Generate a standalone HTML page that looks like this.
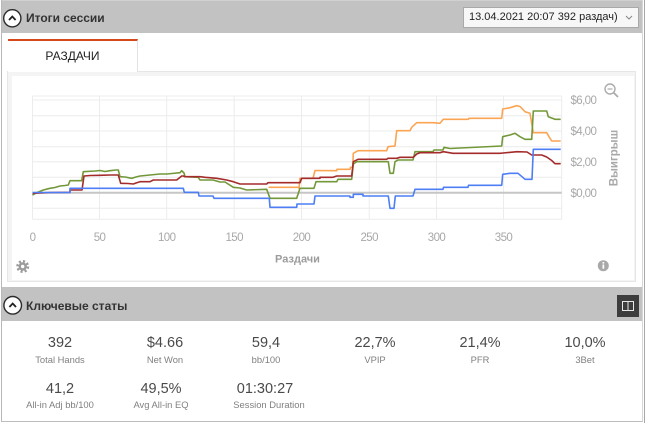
<!DOCTYPE html>
<html><head><meta charset="utf-8"><style>
*{margin:0;padding:0;box-sizing:border-box}
html,body{width:647px;height:423px;overflow:hidden;background:#fff;font-family:"Liberation Sans","Noto Sans CJK SC",sans-serif}
.a{position:absolute}
.hdr{background:#c2c2c2}
.ht{font-weight:bold;font-size:12px;color:#333;line-height:14px}
.v{position:absolute;font-size:14.5px;color:#4a4a4a;text-align:center;width:120px;line-height:16px}
.l{position:absolute;font-size:9.4px;color:#808080;text-align:center;width:120px;line-height:11px}
</style></head><body>
<div class="a" style="left:1px;top:0;width:642px;height:422px;border-left:1px solid #b8b8b8;border-right:1px solid #d6d6d6;border-bottom:1px solid #bdbdbd"></div>
<div class="a" style="left:644px;top:0;width:1px;height:423px;background:#a8a8a8"></div>
<div class="a hdr" style="left:2px;top:0;width:640px;height:33px;border-top:1px solid #d0d0d0"></div>
<svg class="a" style="left:0;top:0" width="30" height="34"><circle cx="12.3" cy="18.3" r="8.6" fill="#fff" stroke="#2b2b2b" stroke-width="1.4"/><polyline points="9,20 12.3,16.5 15.6,20" fill="none" stroke="#222" stroke-width="1.8"/></svg>
<div class="a ht" style="left:26px;top:11px">Итоги сессии</div>
<div class="a" style="left:463px;top:7px;width:176px;height:21px;background:#f7f7f7;border:1px solid #a9a9a9"></div>
<div class="a" style="left:469px;top:10px;font-size:11px;color:#222;line-height:14px;white-space:nowrap">13.04.2021 20:07 392 раздач)</div>
<svg class="a" style="left:624px;top:14px" width="10" height="8"><polyline points="2,2 5,5 8,2" fill="none" stroke="#888" stroke-width="1"/></svg>
<div class="a" style="left:7px;top:71px;width:629px;height:211px;background:#f4f4f4;border:1px solid #e6e6e6"></div>
<div class="a" style="left:12px;top:76px;width:622px;height:204px;background:#fff"></div>
<div class="a" style="left:8px;top:39px;width:130px;height:33px;background:#fff;border-top:2px solid #d6471a;border-right:1px solid #e2e2e2"></div>
<div class="a" style="left:8px;top:49px;width:129px;text-align:center;font-size:12px;color:#222;line-height:14px">РАЗДАЧИ</div>
<svg class="a" style="left:0;top:0" width="647" height="290">
<g stroke="#ececec" stroke-width="1" fill="none">
<line x1="32.5" y1="96" x2="561.7" y2="96"/>
<line x1="32.5" y1="100" x2="561.7" y2="100"/>
<line x1="32.5" y1="115.7" x2="561.7" y2="115.7"/>
<line x1="32.5" y1="131" x2="561.7" y2="131"/>
<line x1="32.5" y1="146.7" x2="561.7" y2="146.7"/>
<line x1="32.5" y1="161.7" x2="561.7" y2="161.7"/>
<line x1="32.5" y1="177.3" x2="561.7" y2="177.3"/>
<line x1="32.5" y1="208.3" x2="561.7" y2="208.3"/>
<line x1="32.5" y1="219.3" x2="561.7" y2="219.3"/>
<line x1="32.5" y1="96" x2="32.5" y2="219.3"/>
<line x1="99.5" y1="96" x2="99.5" y2="219.3"/>
<line x1="166.7" y1="96" x2="166.7" y2="219.3"/>
<line x1="234.2" y1="96" x2="234.2" y2="219.3"/>
<line x1="301.5" y1="96" x2="301.5" y2="219.3"/>
<line x1="369.2" y1="96" x2="369.2" y2="219.3"/>
<line x1="436.5" y1="96" x2="436.5" y2="219.3"/>
<line x1="503.5" y1="96" x2="503.5" y2="219.3"/>
<line x1="561.7" y1="96" x2="561.7" y2="219.3"/>
</g>
<line x1="32.5" y1="192.7" x2="561.7" y2="192.7" stroke="#c6c6c6" stroke-width="2"/>
<g fill="none" stroke-width="1.6" stroke-linejoin="round">
<polyline stroke="#fba453" points="269.3,188 269.3,187.3 298.3,187.3 299,188.3 300,178.3 313,178.3 315,170.5 336.7,170.7 337,169.3 350,169.3 350.5,167.3 352.7,167.3 353.3,153.3 358,150.7 386.7,150.7 388,146.7 395,146 396.7,130.7 410,130.7 411.7,127.3 416.7,122.7 433.3,122.7 440,123.3 443.3,119.3 468.3,119.3 469,118.3 501.7,118.3 502.7,109 510,107.7 516.7,105.7 520,106.5 525,111.7 530,113.3 533.3,132.7 546.7,132.7 549,136.7 551.7,141 560.7,141"/>
<polyline stroke="#72983a" points="32.5,195 36,193 43.3,190 50,188.3 55,187.5 60,186 65,185.5 68.3,185 70,180.7 81.7,180.7 83.3,171.7 95,171 100,170.5 105,171.5 110,170.7 116,170 118.3,170 120,176.7 125,177 131.7,178.3 136,177 140,176 150,175 160,174 166.7,174 172,173.5 180,172.7 181.7,170.7 184,173 185,176.7 198.3,177.3 200,180 213,180 220,182 225,182 233.3,187.3 240,188 246.7,190 266.7,189.3 270,198.3 296.7,198.3 300,188.3 314,188.3 316,181.7 336.7,181.7 338,179.3 351.7,179.3 353.3,164 356.7,161.7 388.3,161.7 390,173.3 393.3,173.3 395,161.7 398,160 413,160 415,151.7 433,151.7 434,150 443,150 444,147.3 450,148.5 501.7,146 502.7,136.7 510,135 515,133.3 520,136.7 525,139.3 531.7,139.3 533.3,111 546.7,111 548.3,116.7 555,119.3 560.7,119.3"/>
<polyline stroke="#a42b2b" points="32.5,193.3 40,193 50,192.5 70,192.3 70,190 82,190 84,176 90,175.5 100,175.3 110,175 118.3,175 120.7,183.3 128,183.5 133.3,184 136,183 140,181.7 150,181.7 153.3,180 166.7,180 176.7,180 181.7,176 183.3,176 185,176.7 200,176.7 205,177.3 216.7,178.3 226.7,180 233.3,181.7 240,184 266.7,184 268,182.7 300,182.7 301.7,178.3 320,178.3 320,177.3 333,177.3 336.7,176 351.7,176 353.3,161.7 358,159.3 386.7,159.3 388,158.3 396.7,158.3 400,157.3 413.3,157.3 416.7,154 420,152.7 440,152.7 443.3,151.7 453,153.3 500,153.3 503,153 517,151.7 527,152 531.7,155 541.7,155 546.7,157 551.7,160.5 555,163.7 560.7,163.7"/>
<polyline stroke="#4d7ef5" points="32.5,192.5 70,192.5 70,188.3 183.3,188.3 184.3,192.3 198.3,192.3 199,196 213,196 214,198.3 269.3,198.3 270,207.3 296.7,207.3 297,204 314,204 315,196 350,196 350,197.3 353.3,197.3 353.3,194.3 363,194.3 363,196 388.3,196 390,208.3 394,208.3 395.3,196 413,196 415,189.3 443,189.3 443.5,187.3 468,187.3 468.5,185.3 501.7,185.3 502.7,174.3 510,173.3 518,173.3 522,176.7 525,179.3 532,179.3 533.3,149.3 560.7,149.3"/>
</g>
<g font-size="11.5" fill="#a8a8a8" letter-spacing="-0.6" font-family="Liberation Sans, sans-serif">
<text x="32.5" y="240.8" text-anchor="middle">0</text>
<text x="99.5" y="240.8" text-anchor="middle">50</text>
<text x="166.7" y="240.8" text-anchor="middle">100</text>
<text x="234.2" y="240.8" text-anchor="middle">150</text>
<text x="301.5" y="240.8" text-anchor="middle">200</text>
<text x="369.2" y="240.8" text-anchor="middle">250</text>
<text x="436.5" y="240.8" text-anchor="middle">300</text>
<text x="503.5" y="240.8" text-anchor="middle">350</text>
<text x="570.5" y="104.2">$6,00</text>
<text x="570.5" y="135.2">$4,00</text>
<text x="570.5" y="165.9">$2,00</text>
<text x="570.5" y="196.9">$0,00</text>
</g>
<text x="297.5" y="262.3" text-anchor="middle" font-size="11" font-weight="bold" fill="#9c9c9c" font-family="Liberation Sans, sans-serif">Раздачи</text>
<text transform="translate(617.5,158) rotate(-90)" text-anchor="middle" font-size="11.5" font-weight="bold" fill="#a8a8a8" font-family="Liberation Sans, sans-serif">Выигрыш</text>
<circle cx="610" cy="89" r="5" fill="none" stroke="#ababab" stroke-width="1.4"/>
<line x1="607.5" y1="89" x2="612.5" y2="89" stroke="#ababab" stroke-width="1.2"/>
<line x1="613.6" y1="92.6" x2="618" y2="97" stroke="#ababab" stroke-width="1.8"/>
<circle cx="22.7" cy="266.5" r="5.2" fill="none" stroke="#9b9b9b" stroke-width="2.6" stroke-dasharray="2.1 2"/>
<circle cx="22.7" cy="266.5" r="4.2" fill="#9b9b9b"/>
<circle cx="22.7" cy="266.5" r="1.7" fill="#fff"/>
<circle cx="603.3" cy="265.7" r="5.5" fill="#a8a8a8"/>
<rect x="602.5" y="264.5" width="1.7" height="4.2" fill="#fff"/>
<rect x="602.5" y="262" width="1.7" height="1.6" fill="#fff"/>
</svg>
<div class="a hdr" style="left:2px;top:287px;width:640px;height:34px"></div>
<svg class="a" style="left:0;top:287px" width="30" height="34"><circle cx="12.7" cy="18.3" r="8.8" fill="#fff" stroke="#2b2b2b" stroke-width="1.4"/><polyline points="9.4,20 12.7,16.5 16,20" fill="none" stroke="#222" stroke-width="1.8"/></svg>
<div class="a ht" style="left:26px;top:299px">Ключевые статы</div>
<div class="a" style="left:617px;top:295px;width:22px;height:22px;background:#3d3d3d"></div>
<svg class="a" style="left:617px;top:295px" width="22" height="22"><rect x="5.5" y="6.5" width="11" height="9" fill="none" stroke="#e8e8e8" stroke-width="1"/><line x1="11" y1="6.5" x2="11" y2="15.5" stroke="#e8e8e8" stroke-width="1"/></svg>
<div class="v" style="left:0;top:335px">392</div><div class="l" style="left:0;top:354px">Total Hands</div>
<div class="v" style="left:105px;top:335px">$4.66</div><div class="l" style="left:105px;top:354px">Net Won</div>
<div class="v" style="left:206px;top:335px">59,4</div><div class="l" style="left:206px;top:354px">bb/100</div>
<div class="v" style="left:315px;top:335px">22,7%</div><div class="l" style="left:315px;top:354px">VPIP</div>
<div class="v" style="left:420px;top:335px">21,4%</div><div class="l" style="left:420px;top:354px">PFR</div>
<div class="v" style="left:525px;top:335px">10,0%</div><div class="l" style="left:525px;top:354px">3Bet</div>
<div class="v" style="left:0;top:381px">41,2</div><div class="l" style="left:0;top:399px">All-in Adj bb/100</div>
<div class="v" style="left:101px;top:381px">49,5%</div><div class="l" style="left:101px;top:399px">Avg All-in EQ</div>
<div class="v" style="left:205px;top:381px">01:30:27</div><div class="l" style="left:209px;top:399px">Session Duration</div>
</body></html>
